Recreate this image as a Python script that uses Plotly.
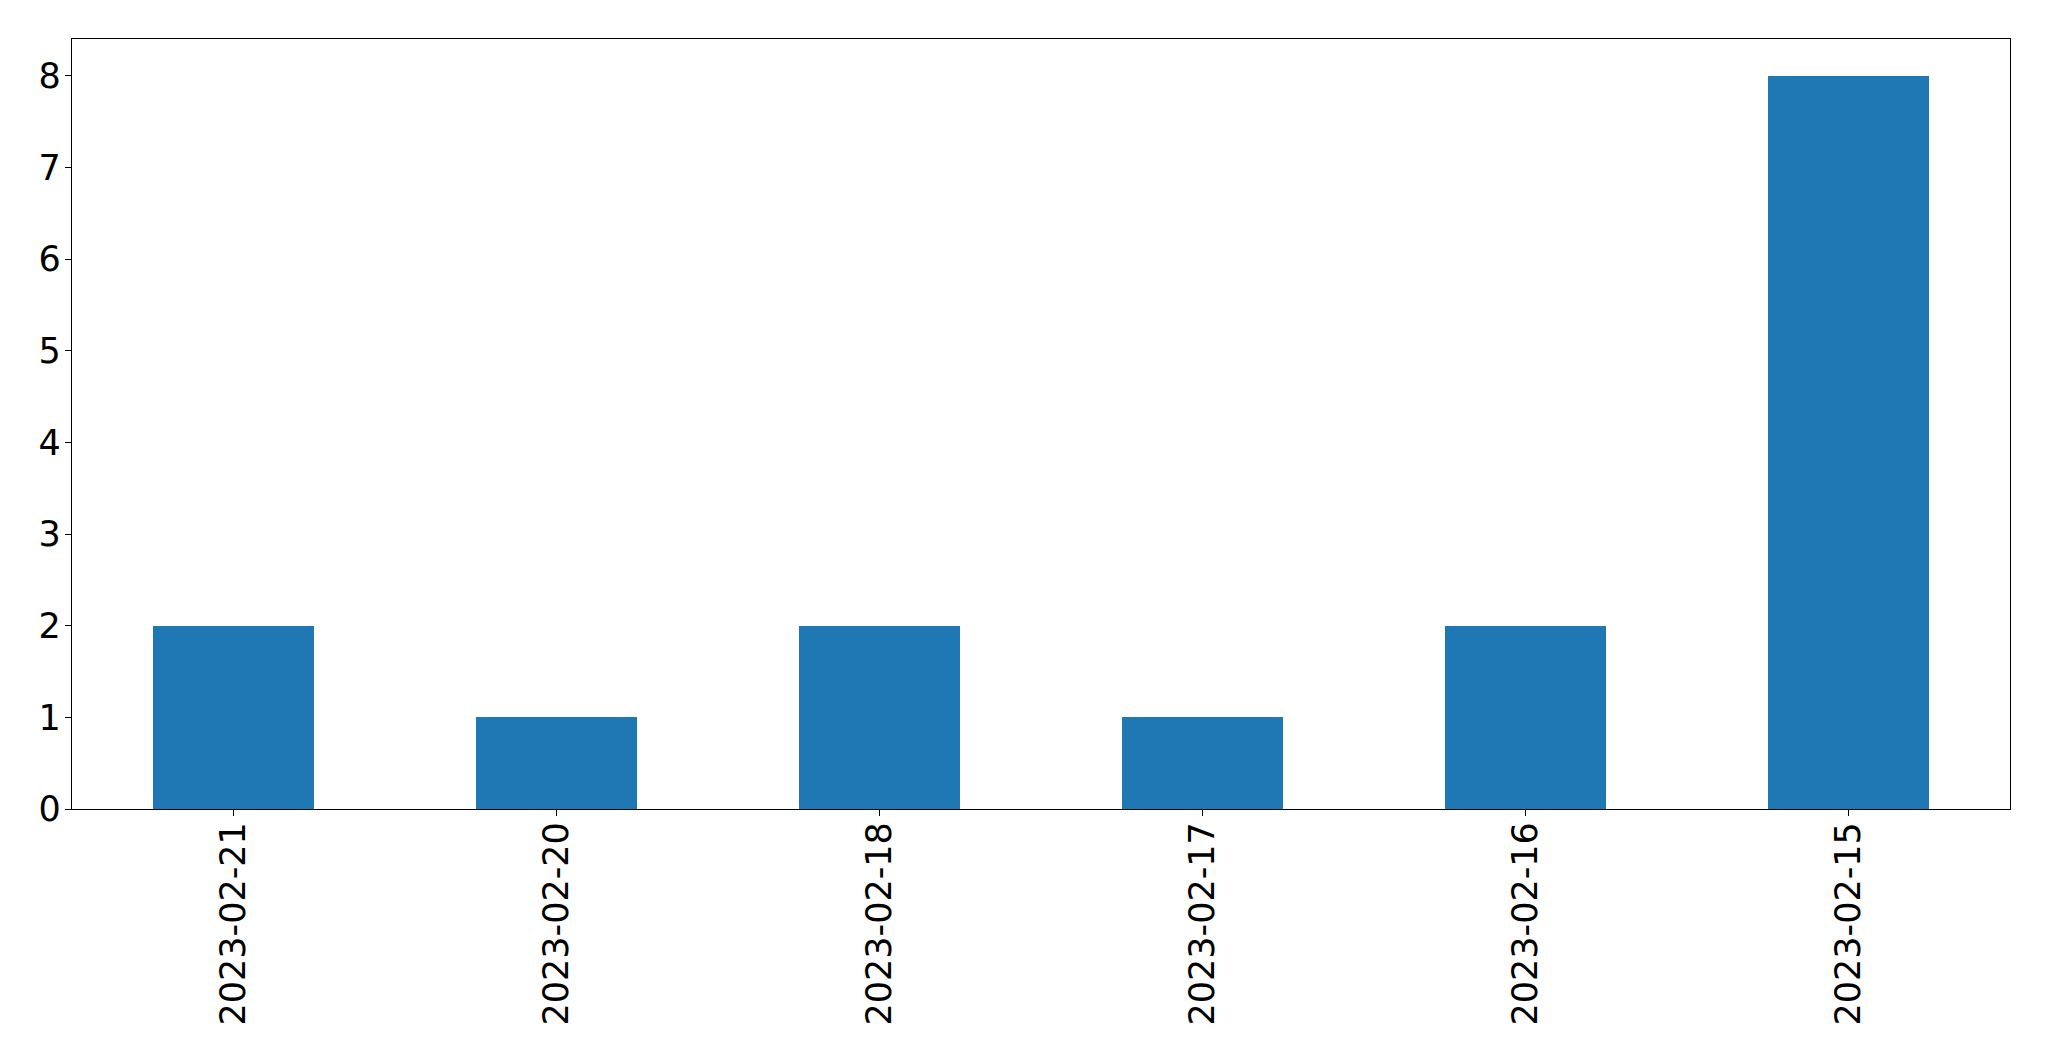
import plotly.graph_objects as go

dates = ["2023-02-21", "2023-02-20", "2023-02-18", "2023-02-17", "2023-02-16", "2023-02-15"]
counts = [2, 1, 2, 1, 2, 8]
y_ticks = [0, 1, 2, 3, 4, 5, 6, 7, 8]

fig = go.Figure(
    go.Bar(x=dates, y=counts, width=0.5, marker=dict(color="#1f77b4", line=dict(width=0)))
)

axis_common = dict(
    showline=True, linecolor="black", linewidth=1.3, mirror=True,
    ticks="outside", ticklen=6, tickwidth=1.3, tickcolor="black",
    showgrid=False, zeroline=False,
    tickfont=dict(family="DejaVu Sans", size=35, color="black"),
)

# page body has an 8px margin; compensate so the plot area lands where the reference has it
fig.update_layout(
    width=2033, height=1045,
    margin=dict(l=64, r=31, t=31, b=244),
    paper_bgcolor="white", plot_bgcolor="white",
    showlegend=False,
    bargap=0,
    xaxis=dict(type="category", range=[-0.5, 5.5], tickangle=-90,
               ticklabelstandoff=-8, **axis_common),
    yaxis=dict(range=[0, 8.4], tickvals=y_ticks, ticklabelstandoff=-3, **axis_common),
)

fig.write_html("out.html")
